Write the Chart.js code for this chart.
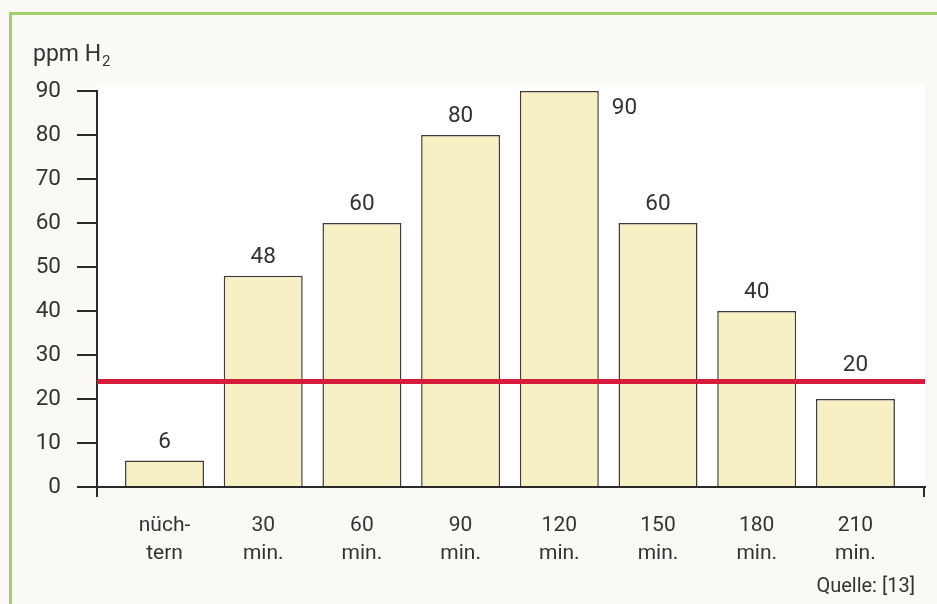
<!DOCTYPE html>
<html>
<head>
<meta charset="utf-8">
<script src="https://cdn.jsdelivr.net/npm/chart.js@4.4.1/dist/chart.umd.min.js"></script>
<style>
  html, body { margin: 0; padding: 0; background: #faf9f4; }
  canvas { display: block; }
</style>
</head>
<body>
<canvas id="chart" width="937" height="604"></canvas>
<script>
// Breath hydrogen over time
const categories = [
  ['nüch-', 'tern'], ['30', 'min.'], ['60', 'min.'], ['90', 'min.'],
  ['120', 'min.'], ['150', 'min.'], ['180', 'min.'], ['210', 'min.']
];
const values = [6, 48, 60, 80, 90, 60, 40, 20];
const threshold = 24;
const yTicks = [0, 10, 20, 30, 40, 50, 60, 70, 80, 90];
const unitLabel = 'ppm H';
const unitSub = '2';
const sourceNote = 'Quelle: [13]';

const FONT = 'Roboto, "DejaVu Sans", sans-serif';
const TEXT = '#333333';
const AXIS = '#2a2a2a';

const framePlugin = {
  id: 'frame',
  beforeDraw(chart) {
    const { ctx, chartArea: a, width, height } = chart;
    ctx.save();
    ctx.fillStyle = '#faf9f4';
    ctx.fillRect(0, 0, width, height);
    // green frame (top and left)
    ctx.fillStyle = '#a3d06b';
    ctx.fillRect(9, 12, width - 9, 3);
    ctx.fillRect(9, 12, 3, height - 12);
    // white plot panel
    ctx.fillStyle = '#ffffff';
    ctx.fillRect(a.left, a.top - 6, a.right - a.left, a.bottom - a.top + 6);
    ctx.restore();
  },
  afterDatasetsDraw(chart) {
    const { ctx, chartArea: a } = chart;
    const y = chart.scales.y;
    const lineY = y.getPixelForValue(threshold);
    const meta = chart.getDatasetMeta(0);

    ctx.save();
    // threshold line
    ctx.strokeStyle = '#d71c3b';
    ctx.lineWidth = 5;
    ctx.beginPath();
    ctx.moveTo(a.left, lineY);
    ctx.lineTo(a.right, lineY);
    ctx.stroke();

    // value labels
    ctx.font = '22.5px ' + FONT;
    ctx.fillStyle = TEXT;
    ctx.textBaseline = 'alphabetic';
    meta.data.forEach((bar, i) => {
      const v = values[i];
      const txt = String(v);
      if (v >= y.max) {
        ctx.textAlign = 'left';
        ctx.fillText(txt, bar.x + bar.width / 2 + 13, bar.y + 23);
        return;
      }
      let base = bar.y - 13;
      if (base > lineY - 3 && base - 17 < lineY + 3) base = lineY - 10;
      ctx.textAlign = 'center';
      ctx.fillText(txt, bar.x, base);
    });
    ctx.restore();
  },
  afterDraw(chart) {
    const { ctx, chartArea: a } = chart;
    ctx.save();
    ctx.strokeStyle = AXIS;
    ctx.lineWidth = 2;
    ctx.beginPath();
    ctx.moveTo(a.left, a.bottom);
    ctx.lineTo(a.left, a.bottom + 10);
    ctx.moveTo(a.right - 1, a.bottom);
    ctx.lineTo(a.right - 1, a.bottom + 10);
    ctx.stroke();

    // unit label
    ctx.fillStyle = TEXT;
    ctx.textAlign = 'left';
    ctx.textBaseline = 'alphabetic';
    ctx.font = '23px ' + FONT;
    ctx.fillText(unitLabel, 33, 61);
    const w = ctx.measureText(unitLabel).width;
    ctx.font = '15px ' + FONT;
    ctx.fillText(unitSub, 33 + w + 1, 66);

    // source
    ctx.font = '20px ' + FONT;
    ctx.textAlign = 'right';
    ctx.fillText(sourceNote, 915, 592);
    ctx.restore();
  }
};

new Chart(document.getElementById('chart'), {
  type: 'bar',
  data: {
    datasets: [{
      data: values.map((v, i) => ({ x: i, y: v })),
      backgroundColor: '#f7f0c5',
      borderColor: '#3d3d3d',
      borderWidth: 1.5,
      barPercentage: 0.8,
      categoryPercentage: 1
    }]
  },
  options: {
    responsive: false,
    devicePixelRatio: 1,
    animation: false,
    layout: { padding: { top: 91, right: 12, left: 0, bottom: 0 } },
    plugins: { legend: { display: false }, tooltip: { enabled: false } },
    scales: {
      x: {
        type: 'linear',
        offset: false,
        min: -0.684,
        max: 7.705,
        afterBuildTicks: s => { s.ticks = categories.map((c, i) => ({ value: i })); },
        afterFit: s => { s.height = 117; },
        grid: { display: false, offset: false },
        border: { display: true, color: AXIS, width: 2 },
        ticks: {
          autoSkip: false,
          maxRotation: 0,
          padding: 17,
          color: TEXT,
          font: { family: FONT, size: 21, lineHeight: 1.33 },
          callback: v => categories[v]
        }
      },
      y: {
        min: 0,
        max: 90,
        afterBuildTicks: s => { s.ticks = yTicks.map(v => ({ value: v })); },
        afterFit: s => { s.width = 97; },
        grid: { drawOnChartArea: false, tickLength: 20, color: AXIS, lineWidth: 2 },
        border: { display: true, color: AXIS, width: 2 },
        ticks: {
          padding: 16,
          color: TEXT,
          font: { family: FONT, size: 22.5 }
        }
      }
    }
  },
  plugins: [framePlugin]
});
</script>
</body>
</html>
